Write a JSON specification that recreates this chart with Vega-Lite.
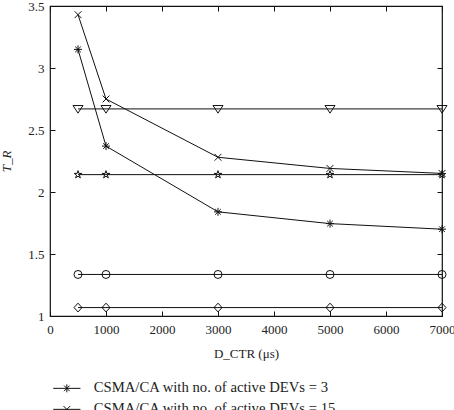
{
  "$schema": "https://vega.github.io/schema/vega-lite/v6.json",
  "width": 392,
  "height": 310,
  "autosize": "none",
  "padding": {"left": 50, "top": 6, "right": 12, "bottom": 94},
  "background": "white",
  "config": {
    "font": "Liberation Serif",
    "view": {"stroke": "#111", "strokeWidth": 1.2},
    "axis": {
      "domain": false,
      "grid": false,
      "ticks": true,
      "tickSize": -5,
      "tickColor": "#111",
      "tickWidth": 1,
      "labelFlush": false,
      "labelFont": "Liberation Serif",
      "labelFontSize": 13,
      "labelColor": "#222",
      "titleFont": "Liberation Serif",
      "titleFontSize": 13,
      "titleFontWeight": "normal",
      "titleColor": "#222"
    }
  },
  "data": {
    "values": [
      {"series": "CSMA/CA with no. of active DEVs = 3", "d": 500, "tr": 3.15},
      {"series": "CSMA/CA with no. of active DEVs = 3", "d": 1000, "tr": 2.37},
      {"series": "CSMA/CA with no. of active DEVs = 3", "d": 3000, "tr": 1.84},
      {"series": "CSMA/CA with no. of active DEVs = 3", "d": 5000, "tr": 1.745},
      {"series": "CSMA/CA with no. of active DEVs = 3", "d": 7000, "tr": 1.70},
      {"series": "CSMA/CA with no. of active DEVs = 15", "d": 500, "tr": 3.43},
      {"series": "CSMA/CA with no. of active DEVs = 15", "d": 1000, "tr": 2.75},
      {"series": "CSMA/CA with no. of active DEVs = 15", "d": 3000, "tr": 2.28},
      {"series": "CSMA/CA with no. of active DEVs = 15", "d": 5000, "tr": 2.19},
      {"series": "CSMA/CA with no. of active DEVs = 15", "d": 7000, "tr": 2.15},
      {"series": "Series 3", "d": 500, "tr": 2.67},
      {"series": "Series 3", "d": 1000, "tr": 2.67},
      {"series": "Series 3", "d": 3000, "tr": 2.67},
      {"series": "Series 3", "d": 5000, "tr": 2.67},
      {"series": "Series 3", "d": 7000, "tr": 2.67},
      {"series": "Series 4", "d": 500, "tr": 2.14},
      {"series": "Series 4", "d": 1000, "tr": 2.14},
      {"series": "Series 4", "d": 3000, "tr": 2.14},
      {"series": "Series 4", "d": 5000, "tr": 2.14},
      {"series": "Series 4", "d": 7000, "tr": 2.14},
      {"series": "Series 5", "d": 500, "tr": 1.335},
      {"series": "Series 5", "d": 1000, "tr": 1.335},
      {"series": "Series 5", "d": 3000, "tr": 1.335},
      {"series": "Series 5", "d": 5000, "tr": 1.335},
      {"series": "Series 5", "d": 7000, "tr": 1.335},
      {"series": "Series 6", "d": 500, "tr": 1.068},
      {"series": "Series 6", "d": 1000, "tr": 1.068},
      {"series": "Series 6", "d": 3000, "tr": 1.068},
      {"series": "Series 6", "d": 5000, "tr": 1.068},
      {"series": "Series 6", "d": 7000, "tr": 1.068}
    ]
  },
  "resolve": {"scale": {"shape": "independent"}, "legend": {"shape": "independent"}},
  "layer": [
    {
      "mark": {"type": "line", "color": "#111", "strokeWidth": 1},
      "encoding": {
        "x": {
          "field": "d", "type": "quantitative",
          "scale": {"domain": [0, 7000], "nice": false, "zero": false},
          "axis": {"orient": "top", "labels": false, "title": null, "values": [0, 1000, 2000, 3000, 4000, 5000, 6000, 7000]}
        },
        "y": {
          "field": "tr", "type": "quantitative",
          "scale": {"domain": [1, 3.5], "nice": false, "zero": false},
          "axis": {"orient": "right", "labels": false, "title": null, "values": [1, 1.5, 2, 2.5, 3, 3.5]}
        },
        "detail": {"field": "series", "type": "nominal"}
      }
    },
    {
      "mark": {"type": "point", "filled": false, "color": "#111", "size": 64, "strokeWidth": 1, "opacity": 1},
      "encoding": {
        "x": {
          "field": "d", "type": "quantitative",
          "scale": {"domain": [0, 7000], "nice": false, "zero": false},
          "axis": {"orient": "bottom", "title": "D_CTR (μs)", "format": "d", "labelPadding": 12, "titlePadding": 11, "values": [0, 1000, 2000, 3000, 4000, 5000, 6000, 7000]}
        },
        "y": {
          "field": "tr", "type": "quantitative",
          "scale": {"domain": [1, 3.5], "nice": false, "zero": false},
          "axis": {"orient": "left", "title": "T_R", "titleFontStyle": "italic", "format": "~g", "labelPadding": 11, "titlePadding": 14, "values": [1, 1.5, 2, 2.5, 3, 3.5]}
        },
        "shape": {
          "field": "series", "type": "nominal",
          "scale": {
            "domain": ["CSMA/CA with no. of active DEVs = 3", "CSMA/CA with no. of active DEVs = 15", "Series 3", "Series 4", "Series 5", "Series 6"],
            "range": [
              "M-1,0H1M0,-1V1M-0.7,-0.7L0.7,0.7M-0.7,0.7L0.7,-0.7",
              "M-0.85,-0.85L0.85,0.85M-0.85,0.85L0.85,-0.85",
              "M-1.25,-0.85L1.25,-0.85L0,1.05Z",
              "M0,-1L0.223,-0.307L0.951,-0.309L0.361,0.117L0.588,0.809L0,0.38L-0.588,0.809L-0.361,0.117L-0.951,-0.309L-0.223,-0.307Z",
              "circle",
              "M-1,0L0,-1.1L1,0L0,1.1Z"
            ]
          },
          "legend": null
        }
      }
    },
    {
      "transform": [{"filter": "datum.tr < 0"}],
      "mark": {"type": "point", "filled": false, "color": "#111", "size": 64, "strokeWidth": 1, "opacity": 1},
      "encoding": {
        "x": {"field": "d", "type": "quantitative", "scale": {"domain": [0, 7000], "nice": false, "zero": false}, "axis": null},
        "y": {"field": "tr", "type": "quantitative", "scale": {"domain": [1, 3.5], "nice": false, "zero": false}, "axis": null},
        "shape": {
          "field": "series", "type": "nominal",
          "scale": {
            "domain": ["CSMA/CA with no. of active DEVs = 3", "CSMA/CA with no. of active DEVs = 15"],
            "range": [
              "M-3.4,0H3.4M0,-1V1M-0.7,-0.7L0.7,0.7M-0.7,0.7L0.7,-0.7",
              "M-3.4,0H3.4M-0.85,-0.85L0.85,0.85M-0.85,0.85L0.85,-0.85"
            ]
          },
          "legend": {
            "orient": "none",
            "legendX": 9.5,
            "legendY": 375,
            "direction": "vertical",
            "title": null,
            "symbolSize": 64,
            "symbolStrokeWidth": 1,
            "symbolStrokeColor": "#111",
            "labelFont": "Liberation Serif",
            "labelFontSize": 14.7,
            "labelColor": "#222",
            "labelOffset": 19.5,
            "labelLimit": 400,
            "padding": 0,
            "rowPadding": 5
          }
        }
      }
    }
  ]
}
